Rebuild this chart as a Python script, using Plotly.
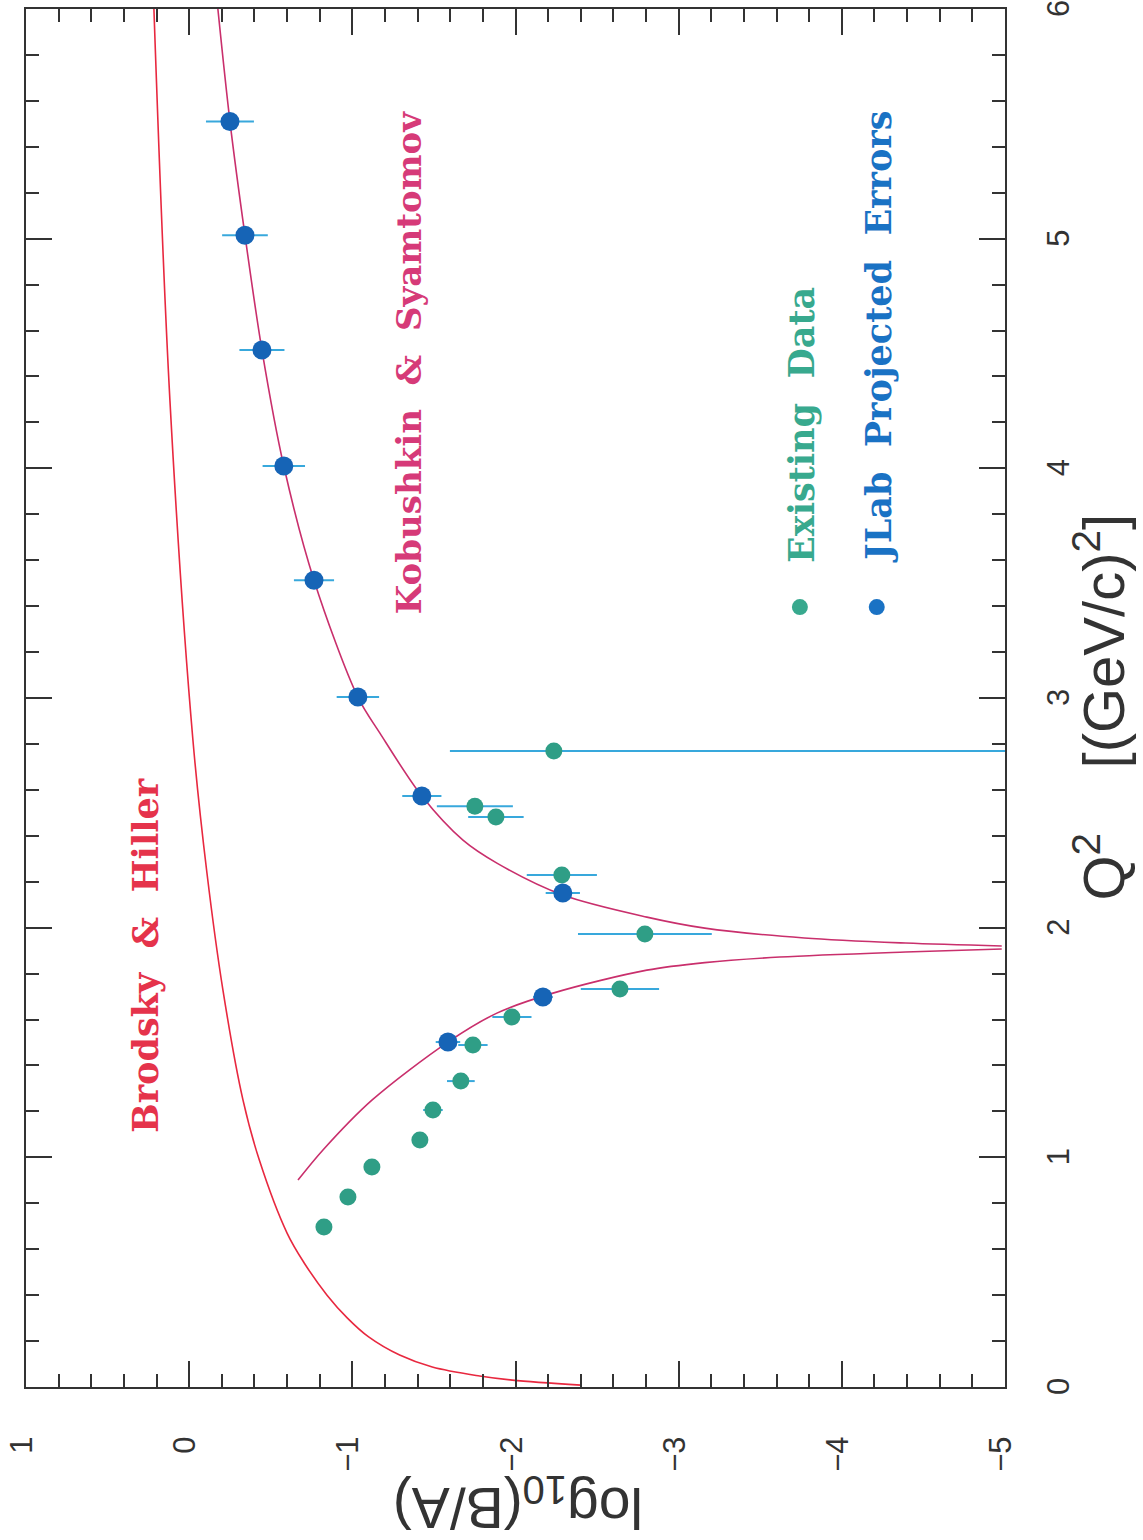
import plotly.graph_objects as go

# ---------------- data ----------------
# Brodsky & Hiller curve: Q^2 and log10(B/A)
bh_q2 = [0.008, 0.030, 0.048, 0.087, 0.139, 0.218, 0.30, 0.40, 0.54, 0.67,
         0.988, 1.249, 1.728, 2.238, 2.817, 4.297, 6.0]
bh_l = [-2.40, -1.98, -1.78, -1.49, -1.29, -1.10, -0.97, -0.845, -0.705, -0.60,
        -0.43, -0.33, -0.207, -0.109, -0.023, 0.118, 0.216]

# Kobushkin & Syamtomov curve, lower branch (below the zero)
ks_lo_q2 = [0.901, 1.032, 1.249, 1.502, 1.628, 1.715, 1.815, 1.848, 1.872, 1.894, 1.907]
ks_lo_l = [-0.667, -0.82, -1.12, -1.586, -1.886, -2.23, -2.805, -3.16, -3.62, -4.39, -4.98]

# Kobushkin & Syamtomov curve, upper branch (above the zero)
ks_hi_q2 = [1.920, 1.933, 1.955, 1.998, 2.046, 2.142, 2.281, 2.381, 2.573, 2.847,
            3.004, 3.513, 4.01, 4.515, 5.015, 5.51, 6.0]
ks_hi_l = [-4.98, -4.39, -3.77, -3.16, -2.805, -2.29, -1.886, -1.678, -1.426, -1.169,
           -1.034, -0.765, -0.58, -0.446, -0.342, -0.25, -0.176]

# Existing data
ex_q2 = [2.769, 2.529, 2.482, 2.229, 1.972, 1.733, 1.611, 1.489, 1.332, 1.206,
         1.075, 0.958, 0.827, 0.697]
ex_l = [-2.235, -1.751, -1.88, -2.284, -2.793, -2.64, -1.978, -1.739, -1.665, -1.494,
        -1.414, -1.12, -0.973, -0.826]
ex_err_plus = [0.637, 0.233, 0.17, 0.215, 0.41, 0.24, 0.12, 0.09, 0.085, 0.06,
               0.0, 0.0, 0.0, 0.0]
ex_err_minus = [3.0, 0.233, 0.17, 0.215, 0.41, 0.24, 0.12, 0.09, 0.085, 0.06,
                0.0, 0.0, 0.0, 0.0]

# JLab projected errors
jl_q2 = [5.51, 5.015, 4.515, 4.01, 3.513, 3.004, 2.573, 2.151, 1.698, 1.502]
jl_l = [-0.25, -0.342, -0.446, -0.58, -0.765, -1.034, -1.426, -2.29, -2.168, -1.586]
jl_err = [0.147, 0.14, 0.138, 0.13, 0.123, 0.13, 0.12, 0.105, 0.06, 0.075]

log_ticks = [1, 0, -1, -2, -3, -4, -5]
q2_ticks = [0, 1, 2, 3, 4, 5, 6]

# ---------------- styles ----------------
AX = "#333333"
RED = "#e8283f"
MAG = "#c92f6c"
BLUE = "#1664b6"
GREEN = "#2f9e86"
ERR = "#38a8dc"
NB = "\u00a0"

fig = go.Figure()

fig.add_trace(go.Scatter(x=bh_l, y=bh_q2, mode="lines",
                         line=dict(color=RED, width=1.6, shape="spline", smoothing=1.0),
                         hoverinfo="skip", showlegend=False))
fig.add_trace(go.Scatter(x=ks_lo_l, y=ks_lo_q2, mode="lines",
                         line=dict(color=MAG, width=1.6, shape="spline", smoothing=0.9),
                         hoverinfo="skip", showlegend=False))
fig.add_trace(go.Scatter(x=ks_hi_l, y=ks_hi_q2, mode="lines",
                         line=dict(color=MAG, width=1.6, shape="spline", smoothing=0.9),
                         hoverinfo="skip", showlegend=False))

fig.add_trace(go.Scatter(
    x=ex_l, y=ex_q2, mode="markers",
    marker=dict(color=GREEN, size=17),
    error_x=dict(type="data", symmetric=False, array=ex_err_plus, arrayminus=ex_err_minus,
                 color=ERR, thickness=2, width=0),
    showlegend=False))

fig.add_trace(go.Scatter(
    x=jl_l, y=jl_q2, mode="markers",
    marker=dict(color=BLUE, size=19),
    error_x=dict(type="data", array=jl_err, color=ERR, thickness=2, width=0),
    showlegend=False))

TICKFONT = dict(family="Liberation Sans, Arial, sans-serif", size=31, color=AX)

common = dict(
    ticks="inside", ticklen=26, tickwidth=2, tickcolor=AX,
    minor=dict(dtick=0.2, ticks="inside", ticklen=13, tickwidth=2, tickcolor=AX),
    showline=True, linecolor=AX, linewidth=2, mirror="allticks",
    showgrid=False, zeroline=False, tickfont=TICKFONT, automargin=False,
    ticklabeloverflow="allow", tickangle=-90)

fig.update_xaxes(range=[1, -5], tickvals=log_ticks, side="bottom",
                 ticklabelstandoff=35, ticklabelshift=4, **common)
fig.update_yaxes(range=[0, 6], tickvals=q2_ticks, side="right",
                 ticklabelstandoff=25, ticklabelshift=4, **common)

SERIF = "DejaVu Serif, serif"
SANS = "Liberation Sans, Arial, sans-serif"
ann = [
    dict(x=0.271, y=1.881, xref="x", yref="y", text=f"<b>Brodsky{NB}{NB}&amp;{NB}{NB}Hiller</b>",
         textangle=-90, showarrow=False, font=dict(family=SERIF, size=35, color="#e5334b")),
    dict(x=-1.347, y=4.462, xref="x", yref="y",
         text=f"<b>Kobushkin{NB}{NB}&amp;{NB}{NB}Syamtomov</b>",
         textangle=-90, showarrow=False, font=dict(family=SERIF, size=34, color="#d63a78")),
    dict(x=-3.749, y=3.579, xref="x", yref="y", yanchor="bottom",
         text=f"<b>Existing{NB}{NB}Data</b>",
         textangle=-90, showarrow=False, font=dict(family=SERIF, size=35, color="#38a98e")),
    dict(x=-4.221, y=3.579, xref="x", yref="y", yanchor="bottom",
         text=f"<b>JLab{NB}{NB}Projected{NB}{NB}Errors</b>",
         textangle=-90, showarrow=False, font=dict(family=SERIF, size=35, color="#1a72c4")),
    dict(x=0.5026, y=-0.1125, xref="paper", yref="paper",
         text="log<sub>10</sub>(B/A)", textangle=180, showarrow=False,
         font=dict(family=SANS, size=57, color=AX)),
    dict(x=1.136, y=0.4935, xref="paper", yref="paper",
         text=f"Q<sup>2</sup>{NB*4}[(GeV/c)<sup>2</sup>]", textangle=-90, showarrow=False,
         font=dict(family=SANS, size=58, color=AX)),
]

shapes = [
    dict(type="circle", xref="x", yref="y", xsizemode="pixel", ysizemode="pixel",
         xanchor=-3.743, yanchor=3.396, x0=-8, x1=8, y0=-8, y1=8,
         fillcolor="#38a98e", line=dict(width=0)),
    dict(type="circle", xref="x", yref="y", xsizemode="pixel", ysizemode="pixel",
         xanchor=-4.214, yanchor=3.396, x0=-8, x1=8, y0=-8, y1=8,
         fillcolor="#1a72c4", line=dict(width=0)),
]

fig.update_layout(
    width=1143, height=1540,
    margin=dict(l=26, r=138, t=9, b=153),
    paper_bgcolor="white", plot_bgcolor="white",
    annotations=ann, shapes=shapes, showlegend=False)

fig.write_html("out.html", config={"displayModeBar": False},
               post_script="document.body.style.margin='0px';")
